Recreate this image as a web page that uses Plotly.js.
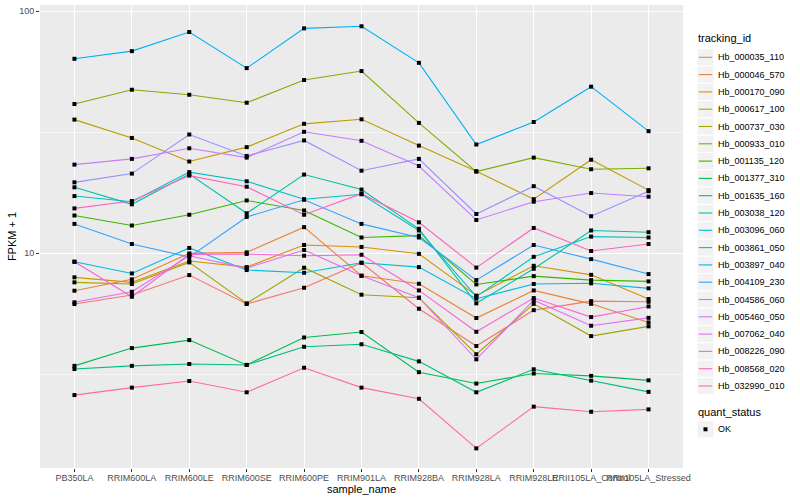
<!DOCTYPE html>
<html>
<head>
<meta charset="utf-8">
<script src="https://cdn.plot.ly/plotly-3.0.1.min.js"></script>
<style>html,body{margin:0;padding:0;background:#fff;}#chart{width:800px;height:500px;}</style>
</head>
<body>
<div id="chart"></div>
<script>
// ---- data (FPKM + 1) ----
const samples = ['PB350LA','RRIM600LA','RRIM600LE','RRIM600SE','RRIM600PE','RRIM901LA','RRIM928BA','RRIM928LA','RRIM928LE','RRII105LA_Control','RRII105LA_Stressed'];

const hb_000035_110 = [6.16, 6.71, 8.11, 6.16, 7.19, 9.12, 5.89, 4.13, 5.81, 6.33, 6.29];
const hb_000046_570 = [6.99, 7.79, 9.97, 10.07, 12.8, 8.06, 7.47, 5.39, 7.01, 6.17, 5.17];
const hb_000170_090 = [7.94, 7.57, 9.27, 8.75, 10.8, 10.6, 9.93, 6.67, 8.86, 8.13, 6.46];
const hb_000617_100 = [35.6, 29.9, 23.9, 27.4, 34.2, 35.7, 27.8, 21.8, 16.7, 24.3, 18.2];
const hb_000737_030 = [7.57, 7.45, 9.15, 6.20, 8.70, 6.73, 6.54, 3.82, 6.17, 4.54, 4.98];
const hb_000933_010 = [41.3, 47.3, 45.1, 41.8, 51.9, 56.5, 34.5, 21.7, 24.8, 22.2, 22.4];
const hb_001135_120 = [14.3, 13.0, 14.4, 16.5, 15.0, 11.6, 11.8, 7.42, 8.03, 7.73, 7.64];
const hb_001377_310 = [3.42, 4.05, 4.37, 3.45, 4.48, 4.72, 3.22, 2.89, 3.18, 3.11, 2.98];
const hb_001635_160 = [3.32, 3.42, 3.48, 3.45, 4.10, 4.20, 3.57, 2.66, 3.31, 2.97, 2.67];
const hb_003038_120 = [18.7, 15.9, 21.2, 14.6, 21.1, 18.3, 12.6, 6.20, 8.61, 12.4, 12.2];
const hb_003096_060 = [17.2, 16.3, 21.6, 19.8, 16.7, 17.5, 12.4, 6.61, 9.65, 11.7, 11.6];
const hb_003861_050 = [9.21, 8.24, 10.5, 8.51, 8.29, 9.12, 8.75, 6.48, 7.45, 7.50, 7.15];
const hb_003897_040 = [63.5, 68.3, 81.9, 58.1, 84.8, 86.5, 61.1, 28.1, 34.8, 48.7, 31.9];
const hb_004109_230 = [13.2, 10.9, 9.63, 14.1, 16.6, 13.2, 11.6, 7.73, 10.8, 9.44, 8.19];
const hb_004586_060 = [19.6, 21.3, 30.9, 25.2, 29.2, 21.9, 24.5, 14.5, 18.9, 14.2, 18.0];
const hb_005460_050 = [23.2, 24.5, 27.1, 24.8, 31.7, 29.1, 22.9, 13.7, 16.3, 17.7, 17.1];
const hb_007062_040 = [6.26, 6.92, 9.75, 8.67, 10.3, 8.06, 6.54, 3.64, 6.39, 5.01, 5.40];
const hb_008226_090 = [9.21, 6.60, 9.88, 9.91, 9.75, 9.84, 7.01, 4.73, 6.52, 5.44, 6.02];
const hb_008568_020 = [15.3, 16.4, 20.9, 18.8, 14.4, 17.6, 13.4, 8.71, 12.7, 10.2, 10.9];
const hb_032990_010 = [2.59, 2.78, 2.96, 2.66, 3.36, 2.78, 2.50, 1.56, 2.32, 2.21, 2.26];

const trackingIds = ['Hb_000035_110','Hb_000046_570','Hb_000170_090','Hb_000617_100','Hb_000737_030','Hb_000933_010','Hb_001135_120','Hb_001377_310','Hb_001635_160','Hb_003038_120','Hb_003096_060','Hb_003861_050','Hb_003897_040','Hb_004109_230','Hb_004586_060','Hb_005460_050','Hb_007062_040','Hb_008226_090','Hb_008568_020','Hb_032990_010'];
const seriesValues = [hb_000035_110, hb_000046_570, hb_000170_090, hb_000617_100, hb_000737_030, hb_000933_010, hb_001135_120, hb_001377_310, hb_001635_160, hb_003038_120, hb_003096_060, hb_003861_050, hb_003897_040, hb_004109_230, hb_004586_060, hb_005460_050, hb_007062_040, hb_008226_090, hb_008568_020, hb_032990_010];
const quantStatus = 'OK';

// ---- styles ----
const palette = ['#F8766D','#EA8331','#D89000','#C09B00','#A3A500','#7CAE00','#39B600','#00BB4E','#00BF7D','#00C1A3','#00BFC4','#00BAE0','#00B0F6','#35A2FF','#9590FF','#C77CFF','#E76BF3','#FA62DB','#FF62BC','#FF6C91'];

const W = 800, H = 500, M = {l: 40, r: 117, t: 5, b: 32};
const plotW = W - M.l - M.r, plotH = H - M.t - M.b;
const px = x => (x - M.l) / plotW;          // pixel -> paper x
const py = y => (H - M.b - y) / plotH;      // pixel -> paper y

const traces = trackingIds.map((id, i) => ({
  type: 'scatter', mode: 'lines', name: id,
  x: samples, y: seriesValues[i],
  line: {color: palette[i], width: 1.1},
  showlegend: false, hoverinfo: 'name+y'
}));

const allX = [], allY = [];
seriesValues.forEach(vals => vals.forEach((v, j) => { allX.push(samples[j]); allY.push(v); }));
traces.push({
  type: 'scatter', mode: 'markers', name: quantStatus,
  x: allX, y: allY,
  marker: {symbol: 'square', size: 4, color: '#000000'},
  showlegend: false
});

// ---- legend (ggplot style) ----
const shapes = [], annotations = [];
const keyL = 697, keyR = 714, rowTop = 57.3, rowStep = 17.3;
annotations.push({xref: 'paper', yref: 'paper', x: px(keyL - 1), y: py(38), xanchor: 'left', yanchor: 'middle',
  text: 'tracking_id', showarrow: false, font: {size: 11, color: '#000000'}});
trackingIds.forEach((id, i) => {
  const cy = rowTop + i * rowStep;
  shapes.push({type: 'rect', xref: 'paper', yref: 'paper', x0: px(keyL), x1: px(keyR), y0: py(cy - 8.6), y1: py(cy + 8.6),
    fillcolor: '#F2F2F2', line: {color: '#FFFFFF', width: 1}, layer: 'above'});
  shapes.push({type: 'line', xref: 'paper', yref: 'paper', x0: px(keyL + 1.8), x1: px(keyR - 1.8), y0: py(cy), y1: py(cy),
    line: {color: palette[i], width: 1.1}, layer: 'above'});
  annotations.push({xref: 'paper', yref: 'paper', x: px(keyR + 2), y: py(cy), xanchor: 'left', yanchor: 'middle',
    text: id, showarrow: false, font: {size: 9, color: '#000000'}});
});
annotations.push({xref: 'paper', yref: 'paper', x: px(keyL - 1), y: py(411.5), xanchor: 'left', yanchor: 'middle',
  text: 'quant_status', showarrow: false, font: {size: 11, color: '#000000'}});
shapes.push({type: 'rect', xref: 'paper', yref: 'paper', x0: px(keyL), x1: px(keyR), y0: py(429.3 - 8.6), y1: py(429.3 + 8.6),
  fillcolor: '#F2F2F2', line: {color: '#FFFFFF', width: 1}, layer: 'above'});
shapes.push({type: 'rect', xref: 'paper', yref: 'paper', x0: px(703.5), x1: px(707.5), y0: py(427.3), y1: py(431.3),
  fillcolor: '#000000', line: {width: 0}, layer: 'above'});
annotations.push({xref: 'paper', yref: 'paper', x: px(keyR + 2), y: py(429.3), xanchor: 'left', yanchor: 'middle',
  text: quantStatus, showarrow: false, font: {size: 9, color: '#000000'}});

const layout = {
  width: W, height: H,
  margin: M,
  paper_bgcolor: '#FFFFFF', plot_bgcolor: '#EBEBEB',
  font: {family: '"Liberation Sans", Arial, sans-serif', size: 9, color: '#4D4D4D'},
  xaxis: {
    type: 'category', categoryorder: 'array', categoryarray: samples,
    range: [-0.6, 10.6], tickangle: 0,
    showgrid: true, gridcolor: '#FFFFFF', gridwidth: 1.1,
    zeroline: false, showline: false,
    ticks: 'outside', ticklen: 3, tickwidth: 1, tickcolor: '#333333',
    ticklabelstandoff: -2,
    tickfont: {size: 9, color: '#4D4D4D'},
    title: {text: 'sample_name', font: {size: 11, color: '#000000'}, standoff: 3}
  },
  yaxis: {
    type: 'log', range: [0.112, 2.025],
    tickmode: 'array', tickvals: [10, 100], ticktext: ['10', '100'],
    showgrid: true, gridcolor: '#FFFFFF', gridwidth: 1.1,
    minor: {tickmode: 'array', tickvals: [3.1623, 31.623], showgrid: true, gridcolor: '#FFFFFF', gridwidth: 0.55, ticks: ''},
    zeroline: false, showline: false,
    ticks: 'outside', ticklen: 3, tickwidth: 1, tickcolor: '#333333',
    tickfont: {size: 9, color: '#4D4D4D'},
    title: {text: 'FPKM + 1', font: {size: 11, color: '#000000'}, standoff: 0}
  },
  shapes: shapes,
  annotations: annotations,
  showlegend: false
};

Plotly.newPlot('chart', traces, layout, {displayModeBar: false, staticPlot: true});
</script>
</body>
</html>
